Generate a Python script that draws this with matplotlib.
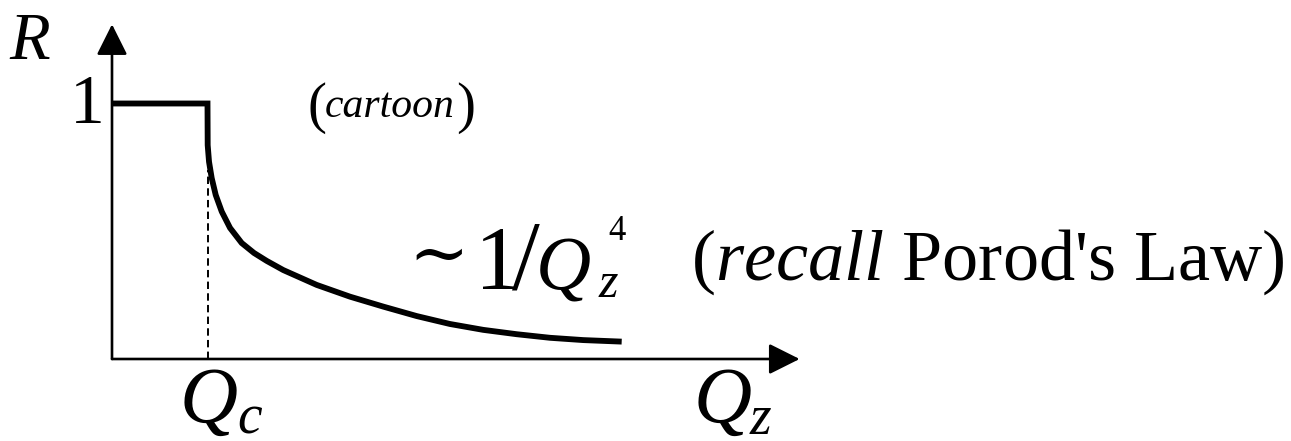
import matplotlib
matplotlib.use("Agg")
import matplotlib.pyplot as plt
from matplotlib.patches import FancyArrowPatch

plt.rcParams['font.family'] = ['Liberation Serif', 'DejaVu Serif']
plt.rcParams['mathtext.fontset'] = 'custom'
plt.rcParams['mathtext.rm'] = 'Liberation Serif'
plt.rcParams['mathtext.it'] = 'Liberation Serif:italic'

W, H = 1291, 441

# reflectivity cartoon, Q in units of Qc
q_flat = [0.0, 1.0]
r_flat = [1.0, 1.0]
q_tail = [1.0, 1.002, 1.016, 1.044, 1.086, 1.149, 1.236, 1.358, 1.487, 1.620,
          1.794, 2.143, 2.492, 2.841, 3.191, 3.539, 3.888, 4.238, 4.586, 4.935, 5.337]
r_tail = [1.0, 0.837, 0.772, 0.708, 0.642, 0.577, 0.513, 0.454, 0.415, 0.384,
          0.348, 0.290, 0.244, 0.205, 0.168, 0.137, 0.114, 0.097, 0.083, 0.074, 0.068]
q_c = 1.0
r_dash_top = 0.74
q_axis_end = 7.2
r_axis_end = 1.31


def px(x, y):
    # pixel position -> axes fraction
    return x / W, 1 - y / H


fig = plt.figure(figsize=(W / 100, H / 100), dpi=100)
ax = fig.add_axes([0, 0, 1, 1])
ax.axis('off')
ax.set_xlim(-112 / 95.5, (W - 112) / 95.5)
ax.set_ylim((359 - H) / 255.5, 359 / 255.5)

# axes with arrow heads
for end in [(q_axis_end, 0), (0, r_axis_end)]:
    arr = FancyArrowPatch((0, 0), end, arrowstyle="-|>,head_length=19,head_width=9.5",
                          mutation_scale=1, lw=1.9, color='k', shrinkA=0, shrinkB=0)
    ax.add_patch(arr)

# dashed line at Qc
ax.plot([q_c, q_c], [0, r_dash_top], color='k', lw=1.4, linestyle=(0, (3.8, 2.2)))

# the curve
ax.plot(q_flat + q_tail[1:], r_flat + r_tail[1:], color='k', lw=4.2,
        solid_capstyle='butt', solid_joinstyle='miter')

tr = ax.transAxes
ax.text(*px(9, 59), "R", fontsize=48, style='italic', transform=tr, va='baseline')
ax.text(*px(105, 123), "1", fontsize=50, transform=tr, va='baseline', ha='right')

ax.text(*px(307, 122), "(", fontsize=41, transform=tr, va='baseline')
ax.text(*px(325, 117), "cartoon", fontsize=30, style='italic', transform=tr, va='baseline')
ax.text(*px(456, 122), ")", fontsize=41, transform=tr, va='baseline')

# ~1/Q_z^4 built from pieces
ax.text(*px(439, 259), "\u223c", fontsize=52, transform=tr, va='center', ha='center')
ax.text(*px(498, 289), "1", fontsize=66, transform=tr, va='baseline', ha='center')
ax.text(*px(526, 289), "/", fontsize=72, transform=tr, va='baseline', ha='center')
ax.text(*px(536, 289), "Q", fontsize=55, style='italic', transform=tr, va='baseline')
ax.text(*px(599, 297), "z", fontsize=36, style='italic', transform=tr, va='baseline')
ax.text(*px(608, 240), "4", fontsize=25, transform=tr, va='baseline')

ax.text(*px(1285, 280), r"($\mathit{recall}$ Porod's Law)", fontsize=52,
        transform=tr, va='baseline', ha='right')

ax.text(*px(180, 423), "Q", fontsize=58, style='italic', transform=tr, va='baseline')
ax.text(*px(237, 434), "c", fontsize=40, style='italic', transform=tr, va='baseline')
ax.text(*px(694, 423), "Q", fontsize=58, style='italic', transform=tr, va='baseline')
ax.text(*px(750, 434), "z", fontsize=40, style='italic', transform=tr, va='baseline')

fig.savefig("out.png", dpi=100)
